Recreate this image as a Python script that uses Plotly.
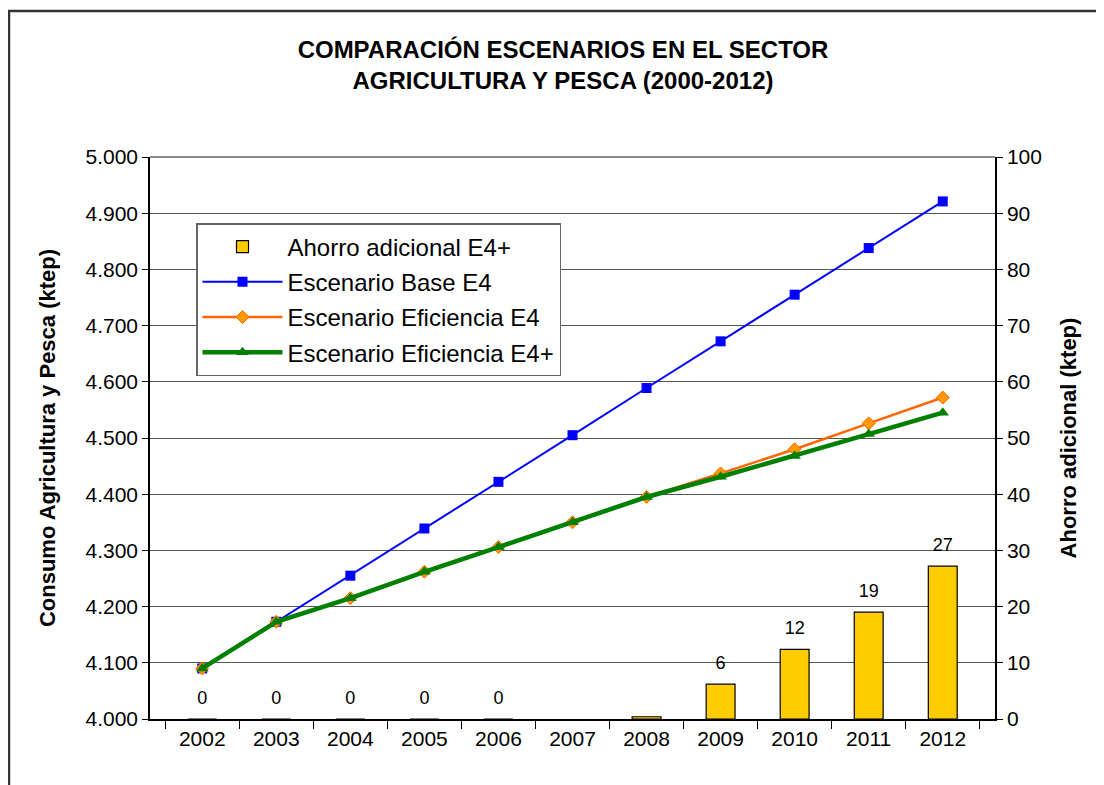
import plotly.graph_objects as go

years = ["2002", "2003", "2004", "2005", "2006", "2007", "2008", "2009", "2010", "2011", "2012"]
base_e4 = [4.090, 4.173, 4.255, 4.339, 4.422, 4.505, 4.589, 4.672, 4.755, 4.838, 4.921]
efic_e4 = [4.090, 4.173, 4.215, 4.262, 4.306, 4.350, 4.395, 4.437, 4.480, 4.526, 4.572]
efic_e4_plus = [4.090, 4.173, 4.215, 4.262, 4.306, 4.350, 4.395, 4.431, 4.468, 4.507, 4.545]
ahorro = [0, 0, 0, 0, 0, None, 0.4, 6.2, 12.4, 19.0, 27.2]
ahorro_labels = ["0", "0", "0", "0", "0", "", "", "6", "12", "19", "27"]

FONT = "Liberation Sans, Arial, sans-serif"

# figure is drawn inside the page body (8px offset), plot area in figure pixels
W, H = 1096, 777
PL, PR, PT, PB = 142, 987, 149, 711
PW, PH = PR - PL, PB - PT

fig = go.Figure()

fig.add_trace(go.Bar(name="Ahorro adicional E4+", x=years, y=ahorro, legendgroup="a",
                     marker=dict(color="#FFCC00", line=dict(color="black", width=1.2)),
                     width=0.39, yaxis="y"))

fig.add_trace(go.Scatter(x=years, y=ahorro, text=ahorro_labels, mode="markers+text",
                         marker=dict(size=16, opacity=0),
                         textposition="top center", showlegend=False, hoverinfo="skip",
                         textfont=dict(size=18, color="black", family=FONT), yaxis="y"))

fig.add_trace(go.Scatter(name="Escenario Base E4", x=years, y=base_e4, mode="lines+markers",
                         legendgroup="b",
                         line=dict(color="#0000FF", width=2),
                         marker=dict(symbol="square", size=10, color="#0000FF"), yaxis="y2"))
fig.add_trace(go.Scatter(name="Escenario Eficiencia E4", x=years, y=efic_e4, mode="lines+markers",
                         legendgroup="c",
                         line=dict(color="#FF6600", width=2.5),
                         marker=dict(symbol="diamond", size=10, color="#FF9900",
                                     line=dict(color="#FF6600", width=1)), yaxis="y2"))
fig.add_trace(go.Scatter(name="Escenario Eficiencia E4+", x=years, y=efic_e4_plus, mode="lines+markers",
                         legendgroup="d",
                         line=dict(color="#008000", width=4.5),
                         marker=dict(symbol="triangle-up", size=11, color="#008000"), yaxis="y2"))

fig.update_layout(
    width=W, height=H,
    margin=dict(l=PL, r=W - PR, t=PT, b=H - PB),
    paper_bgcolor="white", plot_bgcolor="white",
    font=dict(family=FONT, color="black", size=21),
    title=dict(text="<b>COMPARACIÓN ESCENARIOS EN EL SECTOR<br>AGRICULTURA Y PESCA (2000-2012)</b>",
               x=555 / W, xref="container", xanchor="center", y=1 - 50 / H, yanchor="top",
               font=dict(size=24, family=FONT)),
    showlegend=True,
    legend=dict(x=(188 - PL) / PW, y=(PB - 215) / PH, xanchor="left", yanchor="top",
                bgcolor="white", bordercolor="#666666", borderwidth=1.5,
                traceorder="grouped", tracegroupgap=1,
                font=dict(size=24, family=FONT), itemwidth=80),
    xaxis=dict(type="category", showline=True, linecolor="black", linewidth=1.5,
               ticks="outside", tickson="boundaries", ticklen=8, tickcolor="black",
               showgrid=False, tickfont=dict(size=21)),
    yaxis=dict(range=[0, 100], dtick=10, side="right", showline=True, linecolor="black",
               linewidth=1.5, ticks="outside", ticklen=6, tickcolor="black",
               showgrid=True, gridcolor="#555555", gridwidth=1.2, zeroline=False,
               tickfont=dict(size=21),
               title=dict(text="<b>Ahorro adicional (ktep)</b>", font=dict(size=22), standoff=20)),
    yaxis2=dict(range=[4.0, 5.0], dtick=0.1, side="left", overlaying="y", showline=True,
                linecolor="black", linewidth=1.5, ticks="outside", ticklen=6, tickcolor="black",
                showgrid=False, zeroline=False, tickformat=".3f",
                tickfont=dict(size=21),
                title=dict(text="<b>Consumo Agricultura y Pesca (ktep)</b>", font=dict(size=22), standoff=24)),
)

# top border of the plot area
fig.add_shape(type="line", xref="paper", yref="paper", x0=0, x1=1, y0=1, y1=1,
              line=dict(color="#666666", width=1.5))
# outer chart frame
fig.add_shape(type="rect", xref="paper", yref="paper",
              x0=(1 - PL) / PW, x1=(1120 - PL) / PW,
              y0=(PB - 800) / PH, y1=(PB - 3) / PH,
              line=dict(color="#333333", width=2.5))

fig.write_html("out.html")
